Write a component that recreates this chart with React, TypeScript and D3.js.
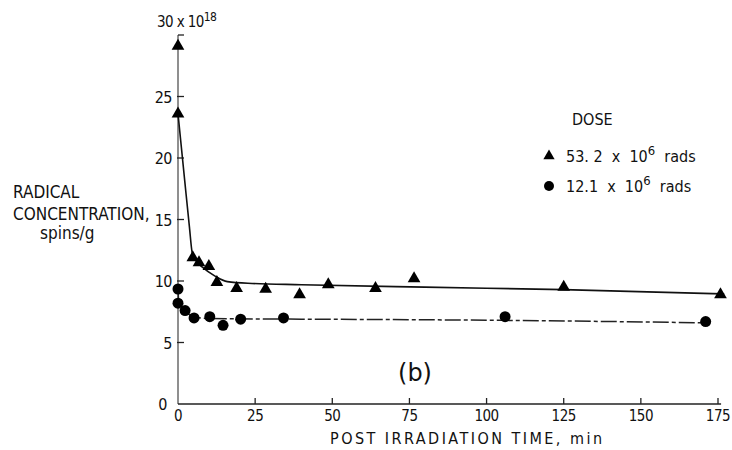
import React from "react";
import * as d3 from "d3";

const xTicks = [0, 25, 50, 75, 100, 125, 150, 175];
const xTickLabels = ["0", "25", "50", "75", "100", "125", "150", "175"];
const yTicks = [0, 5, 10, 15, 20, 25, 30];
const yTickLabels = ["0", "5", "10", "15", "20", "25", "30"];

// 53.2 x 10^6 rads (triangles)
const triTime = [0, 0, 4.8, 6.8, 10, 12.6, 19, 28.4, 39.4, 48.7, 64, 76.5, 125, 175.8];
const triConc = [29.1, 23.6, 11.9, 11.5, 11.2, 9.9, 9.4, 9.35, 8.9, 9.7, 9.4, 10.2, 9.5, 8.9];

// 12.1 x 10^6 rads (circles)
const cirTime = [0, 0, 2.3, 5.2, 10.3, 14.6, 20.3, 34.2, 106, 171];
const cirConc = [9.35, 8.2, 7.6, 7.0, 7.1, 6.4, 6.9, 7.0, 7.1, 6.7];

// hand-drawn fitted curves
const triFitTime = [0, 2.2, 3.7, 4.6, 6, 8, 12, 16, 24, 40, 80, 125, 177];
const triFitConc = [23.6, 18.1, 14.4, 12.3, 11.6, 11.1, 10.4, 9.95, 9.8, 9.7, 9.5, 9.3, 8.95];
const cirFitTime = [0, 0.3, 2.3, 5, 10, 40, 106, 171];
const cirFitConc = [9.35, 8.2, 7.55, 7.1, 6.95, 6.9, 6.8, 6.6];

const FONT = "'Liberation Sans Narrow', 'DejaVu Sans Condensed', 'Liberation Sans', sans-serif";

export default function App() {
  const x = d3.scaleLinear().domain([0, 175]).range([178, 718]);
  const y = d3.scaleLinear().domain([0, 30]).range([404, 35]);

  const line = d3
    .line<[number, number]>()
    .x((d) => x(d[0]))
    .y((d) => y(d[1]))
    .curve(d3.curveMonotoneX);

  const triFit: [number, number][] = triFitTime.map((t, i) => [t, triFitConc[i]]);
  const cirFit: [number, number][] = cirFitTime.map((t, i) => [t, cirFitConc[i]]);

  const tri = d3.symbol().type(d3.symbolTriangle).size(70)();
  const triLeg = d3.symbol().type(d3.symbolTriangle).size(55)();

  return (
    <svg
      width={732}
      height={450}
      style={{ position: "absolute", left: 0, top: 0, background: "#fff" }}
      fontFamily={FONT}
    >
      <rect width={732} height={450} fill="#fff" />
      {/* axes */}
      <line x1={x(0)} x2={x(0)} y1={y(0)} y2={y(30)} stroke="#333" strokeWidth={1.1} />
      <line x1={x(0)} x2={x(176)} y1={y(0)} y2={y(0)} stroke="#222" strokeWidth={1.4} />
      {xTicks.map((t, i) => (
        <g key={"xt" + i}>
          {i > 0 && <line x1={x(t)} x2={x(t)} y1={y(0)} y2={y(0) - 6} stroke="#222" strokeWidth={1.3} />}
          <text x={x(t)} y={421} fontSize={15} textAnchor="middle" fill="#111" letterSpacing={-0.5}>
            {xTickLabels[i]}
          </text>
        </g>
      ))}
      {yTicks.map((t, i) => (
        <g key={"yt" + i}>
          {i > 0 && <line x1={x(0) - (i === 6 ? 0 : 1)} x2={x(0) + 6} y1={y(t)} y2={y(t)} stroke="#222" strokeWidth={1.3} />}
          {i < 6 && (
            <text x={i === 0 ? 167 : 172} y={y(t) + 6} fontSize={16} textAnchor="end" fill="#111" letterSpacing={-0.5}>
              {yTickLabels[i]}
            </text>
          )}
        </g>
      ))}
      <text x={157} y={27} fontSize={15} fill="#111" letterSpacing={-0.6}>
        30 x 10
        <tspan dy={-6} fontSize={12}>
          18
        </tspan>
      </text>

      {/* fitted curves */}
      <path d={line(triFit) || ""} fill="none" stroke="#111" strokeWidth={1.6} />
      <path d={line(cirFit) || ""} fill="none" stroke="#222" strokeWidth={1.5} strokeDasharray="16 3 4 3" />

      {/* markers */}
      {triTime.map((t, i) => (
        <path key={"tr" + i} d={tri || ""} transform={`translate(${x(t)},${y(triConc[i])})`} fill="#000" />
      ))}
      {cirTime.map((t, i) => (
        <circle key={"ci" + i} cx={x(t)} cy={y(cirConc[i])} r={5.5} fill="#000" />
      ))}

      {/* y-axis title */}
      <text x={13} y={198} fontSize={17} fill="#111">RADICAL</text>
      <text x={13} y={220} fontSize={17} fill="#111">CONCENTRATION,</text>
      <text x={40} y={239} fontSize={17} fill="#111">spins/g</text>

      {/* x-axis title */}
      <text x={330} y={444} fontSize={16} fill="#111" textLength={272} lengthAdjust="spacing">
        POST IRRADIATION TIME, min
      </text>

      {/* panel label */}
      <text x={415} y={381} fontSize={24} textAnchor="middle" fill="#111" fontFamily="'DejaVu Sans', sans-serif">
        (b)
      </text>

      {/* legend */}
      <text x={572} y={125} fontSize={16} fill="#111">DOSE</text>
      <path d={triLeg || ""} transform="translate(549,156)" fill="#000" />
      <text x={566} y={162} fontSize={16} fill="#111" style={{ whiteSpace: "pre" }}>
        53. 2  x  10
        <tspan dy={-7} fontSize={13}>6</tspan>
        <tspan dy={7}>  rads</tspan>
      </text>
      <circle cx={549} cy={186} r={5} fill="#000" />
      <text x={566} y={192} fontSize={16} fill="#111" style={{ whiteSpace: "pre" }}>
        12.1  x  10
        <tspan dy={-7} fontSize={13}>6</tspan>
        <tspan dy={7}>  rads</tspan>
      </text>
    </svg>
  );
}
